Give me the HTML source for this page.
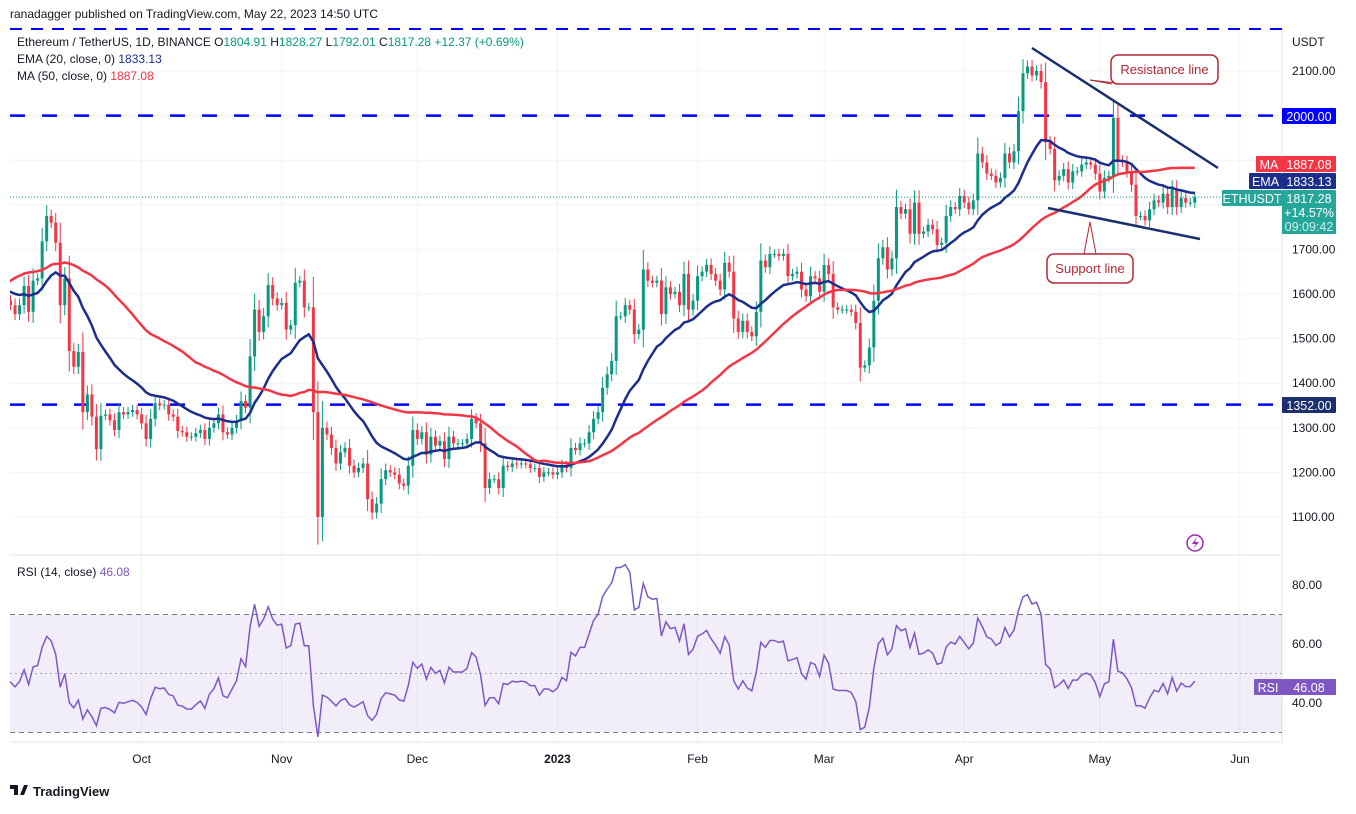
<!DOCTYPE html>
<html><head><meta charset="utf-8">
<style>
body{margin:0;background:#fff;width:1356px;height:809px;overflow:hidden;font-family:"Liberation Sans",sans-serif;}
svg text{font-family:"Liberation Sans",sans-serif;}
</style></head>
<body>
<svg id="chart" width="1356" height="809" xmlns="http://www.w3.org/2000/svg"></svg>
<script>
const preCloses=[1190,1240,1330,1375,1440,1570,1540,1580,1525,1440,1600,1550,1520,1580,1630,1725,1690,1635,1610,1680,1660,1710,1780,1850,1880,1840,1905,1930,1950,1890,1850,1720,1620,1600,1645,1575,1615,1620,1590,1680,1700,1690,1505,1560,1490,1550,1530,1555,1575];
const closes=[1585,1575,1555,1575,1618,1560,1630,1635,1718,1775,1760,1715,1575,1635,1472,1437,1470,1335,1375,1325,1252,1327,1330,1317,1295,1335,1330,1335,1340,1330,
1310,1275,1320,1355,1350,1352,1330,1325,1293,1290,1280,1280,1288,1295,1275,1300,1310,1330,1290,1285,1300,1315,1360,1345,1460,1565,1515,1550,1620,1590,1575,
1580,1520,1530,1625,1630,1570,1570,1335,1100,1300,1285,1255,1220,1245,1255,1215,1200,1210,1220,1140,1110,1130,1185,1205,1200,1195,1175,1170,1215,1295,
1275,1290,1240,1280,1260,1270,1230,1280,1265,1265,1265,1275,1320,1310,1265,1165,1185,1185,1165,1215,1212,1220,1218,1220,1218,1210,1210,1190,1200,1200,1195,
1200,1215,1210,1255,1250,1265,1265,1290,1320,1335,1390,1420,1450,1550,1550,1575,1565,1510,1520,1655,1630,1625,1630,1555,1615,1600,1605,1575,1645,1565,1585,
1640,1650,1665,1645,1630,1610,1670,1650,1545,1515,1540,1515,1505,1560,1675,1660,1690,1690,1685,1690,1640,1645,1650,1610,1595,1640,1635,1605,
1665,1645,1570,1565,1565,1565,1560,1535,1435,1440,1480,1585,1680,1705,1655,1680,1795,1780,1790,1735,1805,1735,1740,1755,1745,1710,1715,1775,1795,1790,1820,
1805,1790,1810,1915,1895,1870,1865,1850,1860,1915,1895,1920,2010,2095,2110,2090,2100,2075,1940,1925,1855,1865,1880,1850,1875,1875,1890,1895,1890,1870,
1830,1860,1865,1995,1900,1895,1875,1845,1775,1775,1765,1790,1810,1805,1825,1795,1835,1795,1815,1805,1805,1817];
const priceTicks=[2100,1700,1600,1500,1400,1300,1200,1100];
const rsiTicks=[80,60,40];
const monthLabels=["Oct","Nov","Dec","2023","Feb","Mar","Apr","May","Jun"];
const monthDays=[30,61,91,122,153,181,212,242,273];

const svg=document.getElementById('chart');
const NS='http://www.w3.org/2000/svg';
function mk(tag,attrs,parent){const el=document.createElementNS(NS,tag);for(const k in attrs)el.setAttribute(k,attrs[k]);(parent||svg).appendChild(el);return el;}
const X=i=>6+i*4.52;
const Y=p=>71+(2100-p)*0.446;
const RY=r=>585+(80-r)*2.95;

const allCloses=preCloses.concat(closes);
const off=preCloses.length;
const emaVals=[];let emaCur=allCloses[0];for(let i=0;i<allCloses.length;i++){emaCur=i?allCloses[i]*2/21+emaCur*19/21:allCloses[i];emaVals.push(emaCur);}
const maVals=[];for(let i=0;i<allCloses.length;i++){const s=Math.max(0,i-49);let t=0;for(let j=s;j<=i;j++)t+=allCloses[j];maVals.push(t/(i-s+1));}
const rsiVals=[];let ag=15,al=15;for(let i=1;i<allCloses.length;i++){const d=allCloses[i]-allCloses[i-1];ag=(ag*13+Math.max(d,0))/14;al=(al*13+Math.max(-d,0))/14;rsiVals.push(100-100/(1+ag/al));}
const rsiAt=i=>rsiVals[i+off-1];

mk('rect',{x:0,y:0,width:1356,height:809,fill:'#fff'});
const defs=mk('defs',{});const cp=mk('clipPath',{id:'plot'},defs);mk('rect',{x:10,y:0,width:1272,height:809},cp);
for(const p of [2100,2000,1900,1800,1700,1600,1500,1400,1300,1200,1100]){mk('line',{x1:10,x2:1282,y1:Y(p),y2:Y(p),stroke:'#f0f3fa'});}
for(const d of monthDays){mk('line',{x1:X(d),x2:X(d),y1:28,y2:742,stroke:'#f0f3fa'});}
mk('line',{x1:1282,x2:1282,y1:28,y2:742,stroke:'#e0e3eb'});
mk('line',{x1:10,x2:1282,y1:555,y2:555,stroke:'#e0e3eb'});
mk('line',{x1:10,x2:1282,y1:742,y2:742,stroke:'#e0e3eb'});

const band=mk('rect',{x:10,y:RY(70),width:1272,height:RY(30)-RY(70),fill:'#7e57c2','fill-opacity':0.1});

for(const r of [70,30])mk('line',{x1:10,x2:1282,y1:RY(r),y2:RY(r),stroke:'#787b86','stroke-dasharray':'5,4'});
mk('line',{x1:10,x2:1282,y1:RY(50),y2:RY(50),stroke:'#787b86','stroke-dasharray':'2,3','stroke-opacity':0.6});

const topLine=mk('line',{x1:10,x2:1282,y1:29,y2:29,stroke:'#0000ff','stroke-width':2,'stroke-dasharray':'12,9'});

for(const p of [2000,1352]){const l=mk('line',{x1:10,x2:1282,y1:Y(p),y2:Y(p),stroke:'#0000ff','stroke-width':2.5,'stroke-dasharray':'15,17'});
}

const plotG=mk('g',{'clip-path':'url(#plot)'});
const cg=mk('g',{},plotG);
for(let i=0;i<closes.length;i++){
 const o=i?closes[i-1]:preCloses[preCloses.length-1];const c=closes[i];
 const w=Math.abs(c-o)*0.25+10;const h=Math.max(o,c)+w,l=Math.min(o,c)-w*0.9;
 const col=c>=o?'#089981':'#f23645';const x=X(i);
 const g=mk('g',{},cg);
 
 
 mk('line',{x1:x,x2:x,y1:Y(h),y2:Y(l),stroke:col,'stroke-width':1},g);
 const y1=Y(Math.max(o,c)),y2=Y(Math.min(o,c));
 mk('rect',{x:x-1.5,y:y1,width:3,height:Math.max(1,y2-y1),fill:col},g);
}
function pathD(vals,fx,fy){return vals.map((v,i)=>(i?'L':'M')+fx(i).toFixed(1)+','+fy(v).toFixed(1)).join('');}
const emaP=mk('path',{d:pathD(emaVals.slice(off),X,Y),fill:'none',stroke:'#1b2e8c','stroke-width':2.5},plotG);

const maP=mk('path',{d:pathD(maVals.slice(off),X,Y),fill:'none',stroke:'#f23645','stroke-width':2.5},plotG);

const rsiP=mk('path',{d:pathD(closes.map((_,i)=>rsiAt(i)),X,RY),fill:'none',stroke:'#7e57c2','stroke-width':1.5},plotG);

mk('line',{x1:10,x2:1282,y1:Y(1817.28),y2:Y(1817.28),stroke:'#089981','stroke-dasharray':'1,2'});

const rl=mk('line',{x1:1032,y1:48,x2:1218,y2:168,stroke:'#1b2e6e','stroke-width':2.5});

const sl=mk('line',{x1:1048,y1:208,x2:1200,y2:239,stroke:'#1b2e6e','stroke-width':2.5});

function callout(x,y,w,h,s,name,px,py,ax){const g=mk('g',{});
 mk('path',{d:`M${ax-6},${y<py?y+h:y} L${px},${py} L${ax+6},${y<py?y+h:y}`,fill:'#fff',stroke:'#b22833','stroke-width':1},g);
 mk('rect',{x,y,width:w,height:h,rx:7,fill:'#fff',stroke:'#b22833','stroke-width':1.5},g);
 const t=mk('text',{x:x+w/2,y:y+h/2+4.5,'text-anchor':'middle','font-size':13,fill:'#b22833'},g);t.textContent=s;}
callout(1111,55,107,29,'Resistance line','resistance-callout',1090,80,1118);
callout(1047,254,86,29,'Support line','support-callout',1090,222,1090);

function txt(x,y,s,attrs,name){const t=mk('text',Object.assign({x,y,'font-size':12,fill:'#131722'},attrs||{}));t.textContent=s;if(name){}return t;}
txt(1292,46,'USDT',{},'currency-label');
priceTicks.forEach(p=>txt(1292,Y(p)+4,p.toFixed(2),{},'price-tick'));
rsiTicks.forEach(r=>txt(1292,RY(r)+4,r.toFixed(2),{},'rsi-tick'));
monthLabels.forEach((m,i)=>txt(X(monthDays[i]),763,m,{'text-anchor':'middle','font-weight':m==='2023'?'bold':'normal'},'month-label'));
function box(x,y,w,h,fill,lines,name){const g=mk('g',{});
 mk('rect',{x,y,width:w,height:h,fill,rx:1},g);lines.forEach((l,i)=>{const t=mk('text',{x:x+w/2,y:y+13+i*14,'text-anchor':'middle','font-size':12.5,fill:i==2?'#d0efe9':'#fff'},g);t.textContent=l;});}
box(1282,108,54,16,'#0000ff',['2000.00'],'level-2000-label');
box(1282,397,54,16,'#1b2e6e',['1352.00'],'level-1352-label');
box(1256,156,26,16,'#f23645',['MA'],'ma-tag');box(1282,156,54,16,'#f23645',['1887.08'],'ma-value-label');
box(1249,173,33,16,'#1b2e8c',['EMA'],'ema-tag');box(1282,173,54,16,'#1b2e8c',['1833.13'],'ema-value-label');
box(1222,190,60,16,'#26a69a',['ETHUSDT'],'symbol-tag');box(1282,190,54,44,'#26a69a',['1817.28','+14.57%','09:09:42'],'last-price-label');
box(1254,679,28,16,'#7e57c2',['RSI'],'rsi-tag');box(1282,679,54,16,'#7e57c2',['46.08'],'rsi-value-label');

txt(10,18,'ranadagger published on TradingView.com, May 22, 2023 14:50 UTC',{'font-size':12,fill:'#131722'},'publish-info');
const l1=txt(17,46,'',{'font-size':12},'symbol-legend');
l1.innerHTML='Ethereum / TetherUS, 1D, BINANCE  O<tspan fill="#089981">1804.91 </tspan> H<tspan fill="#089981">1828.27 </tspan> L<tspan fill="#089981">1792.01 </tspan> C<tspan fill="#089981">1817.28 +12.37 (+0.69%)</tspan>';
const l2=txt(17,63,'',{'font-size':12},'ema-legend');l2.innerHTML='EMA (20, close, 0) <tspan fill="#1b2e8c">1833.13</tspan>';
const l3=txt(17,80,'',{'font-size':12},'ma-legend');l3.innerHTML='MA (50, close, 0) <tspan fill="#f23645">1887.08</tspan>';
const l4=txt(17,576,'',{'font-size':12},'rsi-legend');l4.innerHTML='RSI (14, close) <tspan fill="#7e57c2">46.08</tspan>';
const li=mk('g',{});
mk('circle',{cx:1195,cy:543,r:8,fill:'none',stroke:'#9c27b0','stroke-width':1.5},li);
mk('path',{d:'M1197,537 L1192,544 L1196,544 L1193,549 L1199,542 L1195,542 Z',fill:'#9c27b0'},li);
const fl=mk('g',{});
mk('path',{d:'M10,785 h8 v10 h-4 v-6 h-4z M20,795 l4,-10 h4 l-4,10z',fill:'#131722'},fl);
const ft=mk('text',{x:33,y:796,'font-size':13,'font-weight':'bold',fill:'#131722'},fl);ft.textContent='TradingView';
</script>
</body></html>
